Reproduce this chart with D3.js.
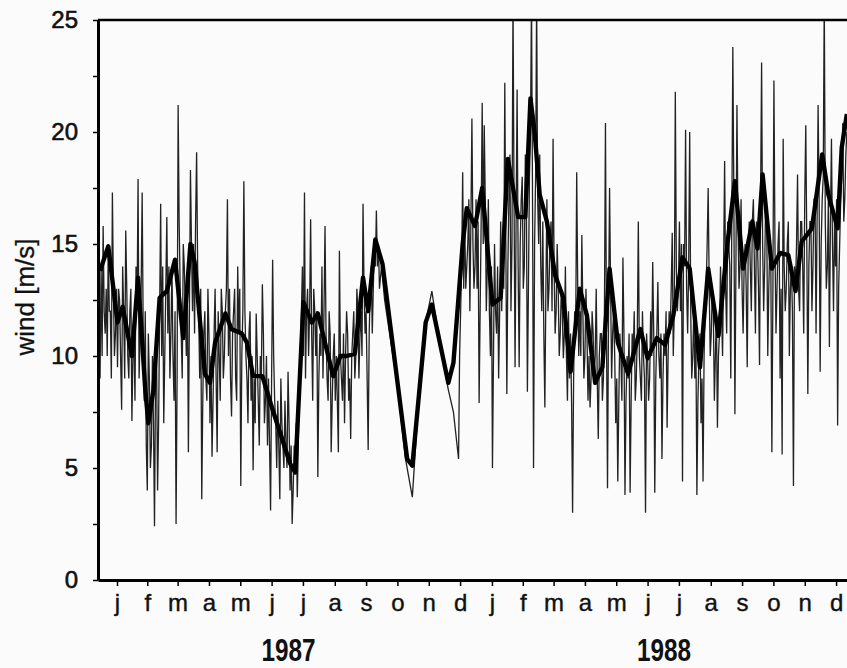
<!DOCTYPE html>
<html><head><meta charset="utf-8">
<script src="https://cdn.jsdelivr.net/npm/d3@7"></script>
<style>
html,body{margin:0;padding:0;background:#fbfbfb;}
svg{display:block;}
</style></head>
<body>
<svg id="c" width="847" height="668"></svg>
<script>
// ---- data ----
const monthLabels = ["j","f","m","a","m","j","j","a","s","o","n","d","j","f","m","a","m","j","j","a","s","o","n","d"];
const yearLabels = ["1987","1988"];
const yTicks = [0,2.5,5,7.5,10,12.5,15,17.5,20,22.5,25];

// daily wind (days since 1 Jan 1987), main readings
const dailyDay = [-2,-1,0,2,4,7,9,11,13,15,16,18,20,22,24,26,28,30,32,34,36,38,40,42,45,47,49,52,53,55,57,58,61,63,64,67,69,71,73,75,77,79,81,83,85,87,89,90,93,95,98,100,102,104,106,108,110,113,115,117,119,121,123,124,127,129,131,133,136,139,
141,143,145,148,151,153,155,157,159,161,162,165,167,169,171,174,176,178,180,182,184,186,188,191,193,195,198,199,201,204,206,208,211,213,215,218,220,222,224,226,228,231,232,234,236,237,239,241,243,245,247,249,252,255,257,260,262,264,268,272,
276,289,296,303,309,316,322,330,338,343,348,
350,352,353,356,358,361,363,365,368,370,371,373,375,377,379,381,383,385,387,389,390,393,395,397,399,401,403,405,407,409,411,413,415,417,419,421,424,
426,427,429,432,434,436,438,440,442,444,446,448,450,452,454,457,459,461,463,465,468,470,472,474,476,478,480,482,484,486,488,491,493,494,495,497,499,501,503,505,508,510,512,515,517,520,523,525,527,530,531,533,535,537,539,542,544,546,548,551,553,556,557,559,561,563,566,567,569,
571,573,575,577,580,582,584,586,588,591,593,595,597,600,602,603,605,607,609,611,613,615,617,619,621,623,625,627,629,631,633,635,637,639,641,643,645,647,649,651,653,655,657,659,661,663,664,666,668,670,672,674,676,678,680,682,684,686,688,690,692,694,696,698,700,702,704,706,709,711,713,714,717,719,722,724,726];
const dailyWind = [12,9,14,15.8,11,14.9,12,17.3,10,13,9.5,12.5,7.6,12,15.6,10,12,7.1,11,14,17.9,11,17.3,8,4,9,6,2.4,9,4,12,16.8,7,13,16.2,9,14,8,2.5,21.2,13,9,14,10,5.7,18.3,12,15,19.1,12,3.6,11,9,13,7,5.5,11,5.7,10,13,9,12,17,10,7.3,12,9,14,4.2,17.8,
10,7,12,4.9,11.9,8,10,13.2,7,10,6,3.1,14.3,8,5,3.6,7,5,6,9.3,4,2.5,6,3.7,9,12,17.3,9,13,16.1,8,12,4.6,11,14,15.8,9,12,5.7,10,8,5.7,14.7,9,11,7,12,8,6.3,11,9,13,11,16.8,11,5.8,13,11,16.5,13.5,
12.5,8.5,5.5,3.7,8,11.5,12.9,10.5,8.5,7.5,5.4,
12,18.2,13,14,17,20.6,13,17,7.9,16,21.3,20.3,12,17,10,5,15,11,9,16,12,22.2,8.3,17,12,26,9.5,21.9,9.5,17,13,19,8.4,18,26,5,26,
15,19,12,7.7,17,13,16,19.7,11,15,10,13,9.9,14,8,11,3,12,18.2,10,15.4,9,13,8,7.7,12,9,13,6.3,11,8,20.4,4.1,12,17.5,9,12,7,4.4,11,14.4,3.8,10,3.9,11,8,16,9,12,3,11,8,12,14.2,3.9,13.3,9,5.4,11,6.8,12,15.5,10,21.8,12,16,4.4,15,20.1,
11,20,9,12,3.8,10,7,4.4,12,17.5,10,13,8,6.8,11,14,10,18.7,11,15,9,23.8,7.4,21.2,13,17,11,15,9.5,16,12,17,11,15,9.6,23.1,12,17,10,15,5.7,22.3,11,15,9,5.6,19.7,12,15,10,14,4.2,13,18.1,12,16,11,20.3,8.3,16,12,17,11,21.2,9.3,17,26,13,10.4,19.7,12,16,6.9,15,20.4,17,20];

// daily wind, in-between days (smaller spikes)
const extraDay = [1,3,5,6,8,10,12,14,17,19,21,23,25,27,29,31,33,35,37,39,41,43,44,46,48,50,51,54,56,59,60,62,65,66,68,70,72,74,76,78,80,82,84,86,88,91,92,94,96,97,99,101,103,105,107,109,111,112,114,116,118,120,122,125,126,128,130,132,134,135,137,138,
140,142,144,146,147,149,150,152,154,156,158,160,163,164,166,168,170,172,173,175,177,179,181,183,185,187,189,190,192,194,196,197,200,202,203,205,207,209,210,212,214,216,217,219,221,223,225,227,229,230,233,235,238,240,242,244,246,248,250,251,253,254,256,258,259,261,263,265,266,267,269,270,271,273,
349,351,354,355,357,359,360,362,364,366,367,369,372,374,376,378,380,382,384,386,388,391,392,394,396,398,400,402,404,406,408,410,412,414,416,418,420,422,423,
425,428,430,431,433,435,437,439,441,443,445,447,449,451,453,455,456,458,460,462,464,466,467,469,471,473,475,477,479,481,483,485,487,489,490,492,496,498,500,502,504,506,507,509,511,513,514,516,518,519,521,522,524,526,528,529,532,534,536,538,540,541,543,545,547,549,550,552,554,555,558,560,562,564,565,568,570,
572,574,576,578,579,581,583,585,587,589,590,592,594,596,598,599,601,604,606,608,610,612,614,616,618,620,622,624,626,628,630,632,634,636,638,640,642,644,646,648,650,652,654,656,658,660,662,665,667,669,671,673,675,677,679,681,683,685,687,689,691,693,695,697,699,701,703,705,707,708,710,712,715,716,718,720,721,723,725];
const extraWind = [10,12,13,10,12,9,13,11,13,10,14,9,13,9,13,10,8,12,9,13,11,12,6,11,5,10,7,10,7,10,14,10,11,14,11,10,12,9,16,11,15,12,13,12,15,11,16,14,9,13,8,12,8,11,10,8,13,9,12,8,12,10,13,13,9,11,13,8,11,13,10,12,
12,9,11,8,10,9,7,10,6,9,11,8,9,6,9,10,7,8,6,9,6,8,5,7,6,4,5,7,6,10,14,10,12,10,12,11,13,10,12,9,10,9,12,11,8,11,8,11,10,8,10,8,10,11,9,10,12,10,12,9,12,10,13,12,9,11,14,13,15,14,14,15,13,14,
10,14,16,13,15,12,16,15,14,13,16,12,15,17,14,12,14,10,12,14,12,15,13,15,14,19,15,17,16,14,15,18,14,17,13,20,17,15,18,
17,14,16,11,13,12,15,12,14,12,13,11,12,11,10,12,9,8,9,11,13,12,10,12,10,11,10,9,11,10,9,10,11,9,12,11,13,11,10,9,8,10,8,11,8,9,11,8,10,12,9,11,10,8,10,9,10,9,10,11,9,11,10,11,9,10,12,10,11,13,12,14,13,12,15,14,13,
14,12,10,9,11,8,11,9,10,13,15,13,11,12,10,12,10,12,14,13,16,14,16,17,14,16,14,13,14,13,15,14,16,14,16,13,17,15,14,16,13,14,13,15,13,16,13,14,13,16,13,12,14,15,13,16,14,17,15,14,16,14,17,16,17,15,18,16,14,17,16,15,14,17,13,17,18,16,19];

// smoothed (weekly mean) wind
const meanDay = [-1,7,16,21,30,36,43,46,51,57,64,72,80,87,91,101,106,111,121,127,137,142,148,157,167,184,189,197,205,211,226,233,239,247,255,260,267,274,298,303,316,322,338,343,352,356,364,371,381,389,396,406,413,418,422,427,434,442,450,457,466,473,481,488,495,503,513,525,532,541,549,557,566,573,583,591,601,610,617,625,634,639,644,653,661,669,676,682,692,702,708,717,721,726];
const meanWind = [13.8,14.9,11.5,12.2,10,13.5,8.5,7,8.5,12.6,12.9,14.3,10.8,15,14.2,9.2,8.8,10.6,11.9,11.2,11.0,10.6,9.1,9.1,7.6,5.2,4.8,12.4,11.5,11.9,9.1,10,10,10.1,13.5,12,15.2,14.1,5.4,5.1,11.5,12.3,8.8,9.7,15,16.6,15.8,17.5,12.3,12.6,18.8,16.2,16.2,21.5,20,17.2,16,13.6,12.6,9.3,13,11.8,8.8,9.5,13.9,10.6,9.2,11.2,9.9,10.8,10.5,11.8,14.4,13.9,9.5,13.9,10.9,15.1,17.8,13.9,16,14.8,18.1,13.9,14.6,14.5,12.9,15.1,15.7,19,17.2,15.7,19.3,20.8];

// ---- chart ----
const svg = d3.select("#c");
const x = d3.scaleLinear().domain([-3, 731]).range([98, 852]);
const y = d3.scaleLinear().domain([0, 25]).range([580, 20]);

const start = new Date(Date.UTC(1987,0,1));
const monthMids = monthLabels.map((m,i) => {
  const a = new Date(Date.UTC(1987, i, 1)), b = new Date(Date.UTC(1987, i+1, 1));
  return (d3.utcDay.count(start, a) + d3.utcDay.count(start, b)) / 2;
});
const yearMids = yearLabels.map((t,i) => {
  const a = new Date(Date.UTC(1987+i,0,1)), b = new Date(Date.UTC(1988+i,0,1));
  return (d3.utcDay.count(start, a) + d3.utcDay.count(start, b)) / 2;
});

svg.append("defs").append("clipPath").attr("id","clip")
  .append("rect").attr("x",98).attr("y",20).attr("width",760).attr("height",560);

const daily = dailyDay.map((d,i)=>[d, dailyWind[i]])
  .concat(extraDay.map((d,i)=>[d, extraWind[i]]))
  .sort((a,b)=>a[0]-b[0]);
const mean = meanDay.map((d,i)=>[d, meanWind[i]]);
const line = d3.line().x(d=>x(d[0])).y(d=>y(d[1]));

const g = svg.append("g").attr("clip-path","url(#clip)");
g.append("path").datum(daily).attr("d", line)
  .attr("fill","none").attr("stroke","#222").attr("stroke-width",1.3).attr("stroke-linejoin","miter");
g.append("path").datum(mean).attr("d", line)
  .attr("fill","none").attr("stroke","#000").attr("stroke-width",4.4).attr("stroke-linejoin","round");

// top frame line
svg.append("line").attr("x1",x(-3)).attr("x2",852).attr("y1",y(25)).attr("y2",y(25))
  .attr("stroke","#000").attr("stroke-width",2.5);

const FONT = "'Liberation Sans', Arial, sans-serif";
// axes
const xAxis = d3.axisBottom(x).tickValues(monthMids).tickFormat((d,i)=>monthLabels[i]).tickSize(6).tickSizeOuter(0).tickPadding(8);
const gx = svg.append("g").attr("transform","translate(0,580)").call(xAxis);
gx.select(".domain").attr("stroke-width",3);
gx.selectAll(".tick line").attr("stroke-width",1.5);
gx.selectAll("text").attr("font-family",FONT).attr("font-size",24).attr("fill","#111")
  .attr("stroke","#111").attr("stroke-width",0.4);

const yAxis = d3.axisLeft(y).tickValues(yTicks).tickFormat(d => d%5===0 ? d : "").tickSize(5).tickSizeOuter(0).tickPadding(15);
const gy = svg.append("g").attr("transform","translate(98,0)").call(yAxis);
gy.select(".domain").attr("stroke-width",3);
gy.selectAll(".tick line").attr("stroke-width",1.5);
gy.selectAll("text").attr("font-family",FONT).attr("font-size",24).attr("fill","#111")
  .attr("stroke","#111").attr("stroke-width",0.6);

svg.append("text").attr("transform","translate(34,297) rotate(-90)")
  .attr("text-anchor","middle").attr("font-family",FONT)
  .attr("font-size",26).attr("fill","#111").attr("stroke","#111").attr("stroke-width",0.3).text("wind [m/s]");

svg.selectAll(".year").data(yearLabels).enter().append("text")
  .attr("class","year")
  .attr("transform",(d,i)=>`translate(${x(yearMids[i])},661) scale(0.76,1)`)
  .attr("text-anchor","middle")
  .attr("font-family",FONT)
  .attr("font-weight","bold").attr("font-size",32).attr("fill","#111").text(d=>d);
</script>
</body></html>
